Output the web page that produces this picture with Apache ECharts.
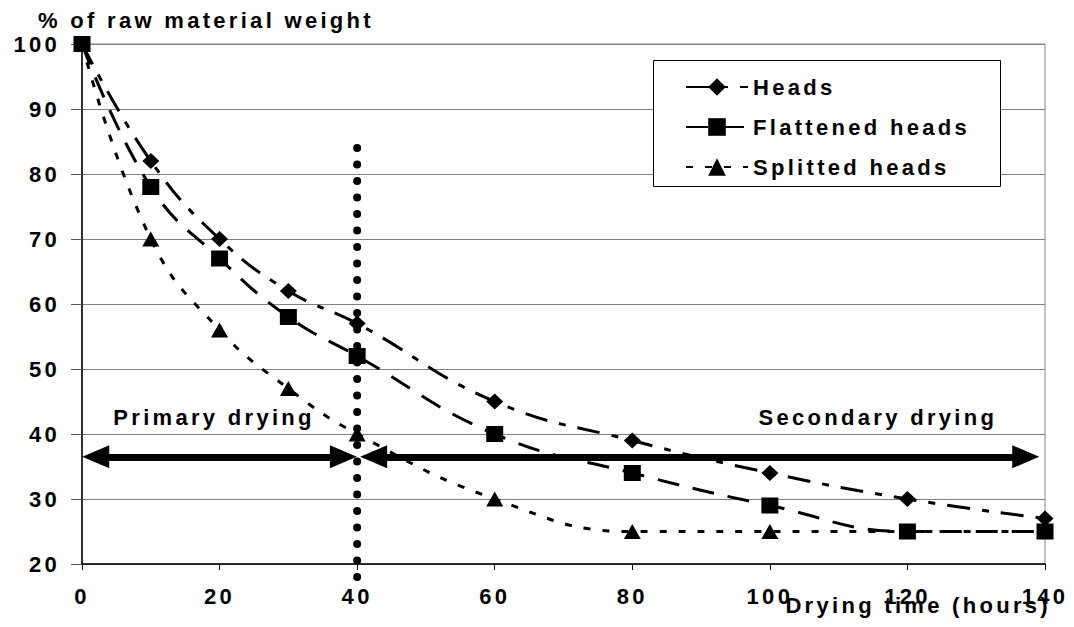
<!DOCTYPE html>
<html>
<head>
<meta charset="utf-8">
<script src="https://cdn.jsdelivr.net/npm/echarts@6/dist/echarts.min.js"></script>
<style>
  html, body { margin: 0; padding: 0; background: #fff; }
  #chart { width: 1074px; height: 627px; }
  #chart svg text { letter-spacing: 3.3px; }
</style>
</head>
<body>
<div id="chart"></div>
<script>
// ---- data ----
const hours = [0, 10, 20, 30, 40, 60, 80, 100, 120, 140];
const heads = [100, 82, 70, 62, 57, 45, 39, 34, 30, 27];
const flattenedHeads = [100, 78, 67, 58, 52, 40, 34, 29, 25, 25];
const splittedHeads = [100, 70, 56, 47, 40, 30, 25, 25, 25, 25];
const seriesNames = ['Heads', 'Flattened heads', 'Splitted heads'];
const yTicks = { min: 20, max: 100, step: 10 };
const xTicks = { min: 0, max: 140, step: 20 };
const yAxisTitle = '% of raw material weight';
const xAxisTitle = 'Drying time (hours)';
// phase boundary (hours) and annotation (data units)
const boundaryHour = 40;
const boundaryRange = [84, 17.5];
const arrowLevel = 36.5;
const primaryArrow = [2, 38];
const secondaryArrow = [42.4, 137.2];
const phaseLabels = ['Primary drying', 'Secondary drying'];
const phaseLabelAt = [[19.2, 42.5], [115.7, 42.5]];

const pairs = (xs, ys) => xs.map((x, i) => [x, ys[i]]);
const FONT = "'Liberation Sans', Arial, sans-serif";
const txt = { fontFamily: FONT, fontWeight: 'bold', fontSize: 22, color: '#000' };

const chart = echarts.init(document.getElementById('chart'), null, { renderer: 'svg' });

const lineSeries = (name, ys, symbol, size, dash) => ({
  name, type: 'line', data: pairs(hours, ys), smooth: 0.45,
  symbol, symbolSize: size, showAllSymbol: true,
  itemStyle: { color: '#000' },
  lineStyle: { color: '#000', width: 3, type: dash },
  z: 3
});

chart.setOption({
  animation: false,
  backgroundColor: '#fff',
  textStyle: { fontFamily: FONT },
  grid: {
    left: 82, right: 29, top: 44, bottom: 63,
    outerBoundsMode: 'none', containLabel: false,
    show: true, borderColor: '#888', borderWidth: 1
  },
  xAxis: {
    type: 'value', min: xTicks.min, max: xTicks.max, interval: xTicks.step,
    axisLine: { show: true, lineStyle: { color: '#000', width: 1.5 } },
    axisTick: { show: true, length: 6, lineStyle: { color: '#000' } },
    splitLine: { show: false },
    axisLabel: Object.assign({ margin: 21 }, txt)
  },
  yAxis: {
    type: 'value', min: yTicks.min, max: yTicks.max, interval: yTicks.step,
    axisLine: { show: true, lineStyle: { color: '#000', width: 1.5 } },
    axisTick: { show: true, length: 11, lineStyle: { color: '#555' } },
    splitLine: { show: true, lineStyle: { color: '#808080', width: 1 } },
    axisLabel: Object.assign({ margin: 22 }, txt),
    name: yAxisTitle, nameLocation: 'end', nameGap: 24,
    nameTextStyle: Object.assign({ align: 'left', verticalAlign: 'middle', padding: [0, 0, 0, -44] }, txt)
  },
  legend: {
    data: seriesNames, orient: 'vertical', left: 680, top: 71,
    itemWidth: 62, itemHeight: 22, itemGap: 18,
    textStyle: txt, selectedMode: false, z: 10
  },
  graphic: [{
    type: 'rect', left: 653, top: 60, z: 5,
    shape: { width: 347, height: 126 },
    style: { fill: '#fff', stroke: '#000', lineWidth: 1 }
  }, {
    type: 'text', x: 1051, y: 605, z: 10,
    style: Object.assign({ text: xAxisTitle, align: 'right', verticalAlign: 'middle',
      font: "bold 22px 'Liberation Sans', Arial, sans-serif", fill: '#000' })
  }],
  series: [
    lineSeries(seriesNames[2], splittedHeads, 'triangle', [17, 15], [7, 12]),
    lineSeries(seriesNames[0], heads, 'diamond', [17, 16], [23, 12, 7, 12]),
    lineSeries(seriesNames[1], flattenedHeads, 'rect', [17, 16], [22, 14]),
    {
      name: 'boundary', type: 'line', clip: false, symbol: 'none', z: 4,
      data: [[boundaryHour, boundaryRange[0]], [boundaryHour, boundaryRange[1]]],
      lineStyle: { color: '#000', width: 8, type: [0, 16.5], cap: 'round' },
      markLine: {
        silent: true, symbol: ['triangle', 'triangle'], symbolSize: [23, 27],
        label: { show: false },
        lineStyle: { color: '#000', width: 7, type: 'solid' },
        data: [
          [{ coord: [primaryArrow[0], arrowLevel] }, { coord: [primaryArrow[1], arrowLevel] }],
          [{ coord: [secondaryArrow[0], arrowLevel] }, { coord: [secondaryArrow[1], arrowLevel] }]
        ]
      },
      markPoint: {
        silent: true, symbol: 'circle', symbolSize: 1,
        itemStyle: { color: 'rgba(0,0,0,0)' },
        label: Object.assign({ show: true, position: 'inside', formatter: '{b}' }, txt),
        data: phaseLabels.map((n, i) => ({ name: n, coord: phaseLabelAt[i] }))
      }
    }
  ]
});
</script>
</body>
</html>
